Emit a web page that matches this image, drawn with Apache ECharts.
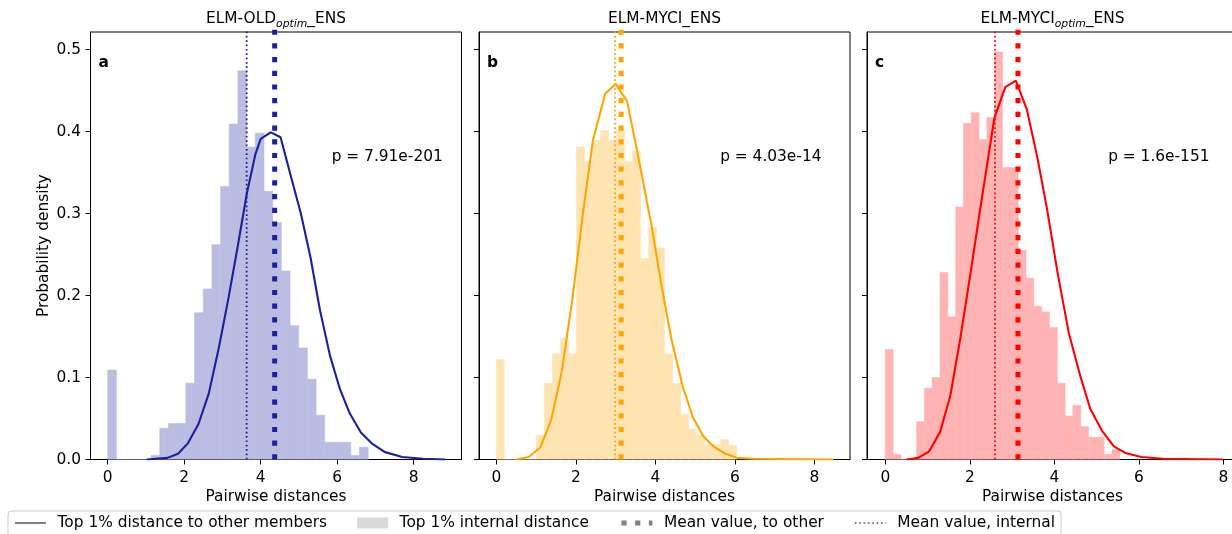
<!DOCTYPE html>
<html><head><meta charset="utf-8">
<script src="https://cdn.jsdelivr.net/npm/echarts@6/dist/echarts.min.js"></script>
<style>html,body{margin:0;padding:0;background:#fff}#c{width:1232px;height:534px}</style>
</head><body><div id="c"></div>
<script>
// ---------- data ----------
const panelLetters = ['a', 'b', 'c'];
const titleRich = ['{n|ELM-OLD}{s|optim}{n|_ENS}', '{n|ELM-MYCI_ENS}', '{n|ELM-MYCI}{s|optim}{n|_ENS}'];
const pTexts = ['p = 7.91e-201', 'p = 4.03e-14', 'p = 1.6e-151'];
const xTickValues = [0, 2, 4, 6, 8];
const yTickValues = [0, 0.1, 0.2, 0.3, 0.4, 0.5];

// histogram (30 equal bins over the given range)
const histRangeA = [0, 6.81];
const histA = [0.109, 0, 0, 0, 0, 0.005, 0.038, 0.044, 0.044, 0.093, 0.179, 0.208, 0.262, 0.333, 0.409,
               0.474, 0.381, 0.398, 0.327, 0.289, 0.230, 0.163, 0.136, 0.098, 0.054, 0.021, 0.021, 0.021, 0.005, 0.015];
const histRangeB = [0, 6.05];
const histB = [0.122, 0, 0, 0, 0, 0.030, 0.093, 0.129, 0.148, 0.129, 0.381, 0.363, 0.389, 0.401, 0.389,
               0.401, 0.363, 0.376, 0.245, 0.283, 0.258, 0.129, 0.093, 0.055, 0.037, 0.030, 0.018, 0.018, 0.024, 0.017];
const histRangeC = [0, 5.55];
const histC = [0.134, 0.006, 0, 0, 0.046, 0.087, 0.100, 0.228, 0.174, 0.308, 0.410, 0.423, 0.390, 0.417, 0.497,
               0.356, 0.356, 0.255, 0.221, 0.187, 0.180, 0.161, 0.093, 0.053, 0.066, 0.040, 0.027, 0.027, 0.006, 0.012];

// curves: distance to other members
const curveAx = [1.02, 1.56, 1.84, 2.10, 2.37, 2.64, 2.90, 3.15, 3.40, 3.64, 3.86, 4.00, 4.26, 4.52, 4.78, 5.05, 5.30, 5.55, 5.81, 6.07, 6.33, 6.62, 6.92, 7.25, 7.70, 8.24, 8.82];
const curveAy = [0, 0.002, 0.007, 0.020, 0.043, 0.080, 0.135, 0.195, 0.260, 0.325, 0.372, 0.391, 0.399, 0.393, 0.347, 0.300, 0.247, 0.182, 0.127, 0.086, 0.056, 0.033, 0.019, 0.009, 0.003, 0.001, 0];
const curveBx = [0.50, 0.82, 1.11, 1.38, 1.65, 1.91, 2.18, 2.43, 2.74, 3.00, 3.29, 3.56, 3.91, 4.16, 4.41, 4.69, 4.94, 5.21, 5.49, 5.76, 6.05, 6.47, 8.48];
const curveBy = [0, 0.003, 0.015, 0.048, 0.108, 0.194, 0.300, 0.389, 0.446, 0.458, 0.437, 0.372, 0.284, 0.211, 0.146, 0.089, 0.052, 0.028, 0.015, 0.007, 0.002, 0.001, 0];
const curveCx = [0.50, 0.78, 1.04, 1.30, 1.54, 1.77, 2.01, 2.26, 2.58, 2.84, 3.09, 3.35, 3.60, 3.83, 4.07, 4.34, 4.62, 4.85, 5.13, 5.41, 5.68, 6.06, 6.57, 7.99];
const curveCy = [0, 0.002, 0.010, 0.034, 0.078, 0.146, 0.225, 0.310, 0.416, 0.454, 0.462, 0.427, 0.368, 0.305, 0.230, 0.155, 0.101, 0.062, 0.035, 0.016, 0.008, 0.003, 0.001, 0];

// mean values
const meanOther = [4.365, 3.14, 3.14];
const meanInternal = [3.633, 2.986, 2.596];

// ---------- styling / layout ----------
const FONT = 'DejaVu Sans';
const FS = 15.4;
const lineColors = ['#1a209e', '#ffa500', '#ff0000'];
const barColors = ['#babce2', '#ffe4b3', '#ffb3b3'];
const gridBoxes = [
  { left: 90.5, top: 32, width: 371, height: 427.5 },
  { left: 479, top: 32, width: 371, height: 427.5 },
  { left: 867, top: 32, width: 371, height: 427.5 }
];
const xRanges = [[-0.45, 9.25], [-0.435, 8.898], [-0.433, 8.348]];
const yMax = 427.5 / 820;

const hists = [[histRangeA, histA], [histRangeB, histB], [histRangeC, histC]];
const curves = [[curveAx, curveAy], [curveBx, curveBy], [curveCx, curveCy]];

const NAME_CURVE = 'Top 1% distance to other members';
const NAME_HIST = 'Top 1% internal distance';
const NAME_MO = 'Mean value, to other';
const NAME_MI = 'Mean value, internal';

const grid = [], xAxis = [], yAxis = [], series = [], title = [];

gridBoxes.forEach((g, i) => {
  grid.push(Object.assign({ show: true, borderColor: '#000', borderWidth: 1, backgroundColor: 'transparent',
    containLabel: false, outerBoundsMode: 'none' }, g));
  xAxis.push({
    type: 'value', gridIndex: i, min: xRanges[i][0], max: xRanges[i][1], position: 'bottom',
    axisLine: { show: true, onZero: false, lineStyle: { color: '#000', width: 1 } }, splitLine: { show: false },
    axisTick: { show: true, inside: false, length: 5, customValues: xTickValues, lineStyle: { color: '#000', width: 1 } },
    axisLabel: { show: true, customValues: xTickValues, margin: 10.5, color: '#000', fontFamily: FONT, fontSize: FS, lineHeight: 15,
      formatter: v => String(v) },
    name: 'Pairwise distances', nameLocation: 'middle', nameGap: 27,
    nameTextStyle: { color: '#000', fontFamily: FONT, fontSize: FS, lineHeight: 15 }
  });
  yAxis.push({
    type: 'value', gridIndex: i, min: 0, max: yMax, position: 'left',
    axisLine: { show: true, onZero: false, lineStyle: { color: '#000', width: 1 } }, splitLine: { show: false },
    axisTick: { show: true, inside: false, length: 5, customValues: yTickValues, lineStyle: { color: '#000', width: 1 } },
    axisLabel: { show: i === 0, customValues: yTickValues, margin: 9.5, color: '#000', fontFamily: FONT, fontSize: FS,
      padding: [3, 0, 0, 0], formatter: v => v.toFixed(1) },
    name: i === 0 ? 'Probability density' : '', nameLocation: 'middle', nameGap: 39.5,
    nameTextStyle: { color: '#000', fontFamily: FONT, fontSize: FS, lineHeight: 15 }
  });

  // histogram bars
  const [range, heights] = hists[i];
  const n = heights.length, w = (range[1] - range[0]) / n;
  const histData = heights.map((h, k) => [range[0] + k * w, range[0] + (k + 1) * w, h]);
  const fill = barColors[i];
  series.push({
    type: 'custom', name: NAME_HIST, xAxisIndex: i, yAxisIndex: i, data: histData,
    encode: { x: [0, 1], y: 2 }, itemStyle: { color: fill }, z: 1, silent: true, clip: true,
    renderItem: (params, api) => {
      const p0 = api.coord([api.value(0), api.value(2)]);
      const p1 = api.coord([api.value(1), 0]);
      return { type: 'rect', shape: { x: p0[0], y: p0[1], width: p1[0] - p0[0], height: p1[1] - p0[1] },
        style: { fill: fill, stroke: fill, lineWidth: 0.6 } };
    }
  });

  // curve
  const [cx, cy] = curves[i];
  series.push({
    type: 'line', name: NAME_CURVE, xAxisIndex: i, yAxisIndex: i,
    data: cx.map((x, k) => [x, cy[k]]), symbol: 'none', smooth: false, silent: true, clip: true,
    lineStyle: { color: lineColors[i], width: 2.1 }, itemStyle: { color: lineColors[i] }, z: 3
  });

  // mean lines
  series.push({
    type: 'line', name: NAME_MO, xAxisIndex: i, yAxisIndex: i,
    data: [[meanOther[i], 0], [meanOther[i], 0.6]], symbol: 'none', silent: true, clip: true,
    lineStyle: { color: lineColors[i], width: 5, type: [5.2, 8.5], cap: 'butt' }, itemStyle: { color: lineColors[i] }, z: 4
  });
  series.push({
    type: 'line', name: NAME_MI, xAxisIndex: i, yAxisIndex: i,
    data: [[meanInternal[i], 0], [meanInternal[i], 0.6]], symbol: 'none', silent: true, clip: true,
    lineStyle: { color: lineColors[i], width: 1.8, type: [1.7, 2.65], cap: 'butt' }, itemStyle: { color: lineColors[i] }, z: 4
  });

  // texts
  const cxPanel = g.left + g.width / 2;
  title.push({
    text: titleRich[i], left: cxPanel, top: 9.2, textAlign: 'center', textVerticalAlign: 'top', padding: 0,
    textStyle: { fontWeight: 'normal', rich: {
      n: { fontFamily: FONT, fontSize: FS, fontWeight: 'normal', color: '#000', lineHeight: 20 },
      s: { fontFamily: FONT, fontSize: 10.8, fontWeight: 'normal', fontStyle: 'italic', color: '#000', lineHeight: 12, verticalAlign: 'bottom' }
    } }
  });
  title.push({
    text: panelLetters[i], left: g.left + 8, top: 53.8, textAlign: 'left', textVerticalAlign: 'top', padding: 0,
    textStyle: { fontFamily: FONT, fontSize: FS, fontWeight: 'bold', color: '#000', lineHeight: 18 }
  });
  title.push({
    text: pTexts[i], left: g.left + 0.65 * g.width, top: 148.2, textAlign: 'left', textVerticalAlign: 'top', padding: 0,
    textStyle: { fontFamily: FONT, fontSize: FS, fontWeight: 'normal', color: '#000', lineHeight: 18 }
  });
});

const hiddenSymbol = { color: '#808080', opacity: 0 };
const option = {
  animation: false,
  backgroundColor: '#fff',
  textStyle: { fontFamily: FONT },
  title, grid, xAxis, yAxis, series,
  legend: {
    show: true, left: 8, top: 511, orient: 'horizontal', selectedMode: false,
    padding: [3, 6, 8, 6], itemGap: 30, itemWidth: 31, itemHeight: 11,
    backgroundColor: '#fff', borderColor: '#cccccc', borderWidth: 1, borderRadius: 3,
    textStyle: { fontFamily: FONT, fontSize: FS, color: '#000', lineHeight: 18, padding: [0, 0, 0, 6.5] },
    data: [
      { name: NAME_CURVE, itemStyle: hiddenSymbol, lineStyle: { color: '#808080', width: 2.1 } },
      { name: NAME_HIST, icon: 'rect', itemStyle: { color: '#d9d9d9', borderWidth: 0 } },
      { name: NAME_MO, itemStyle: hiddenSymbol, lineStyle: { color: '#808080', width: 5, type: [5.2, 8.5] } },
      { name: NAME_MI, itemStyle: hiddenSymbol, lineStyle: { color: '#808080', width: 1.8, type: [1.7, 2.65] } }
    ]
  }
};

const chart = echarts.init(document.getElementById('c'), null, { renderer: 'canvas', width: 1232, height: 534 });
chart.setOption(option);
</script></body></html>
